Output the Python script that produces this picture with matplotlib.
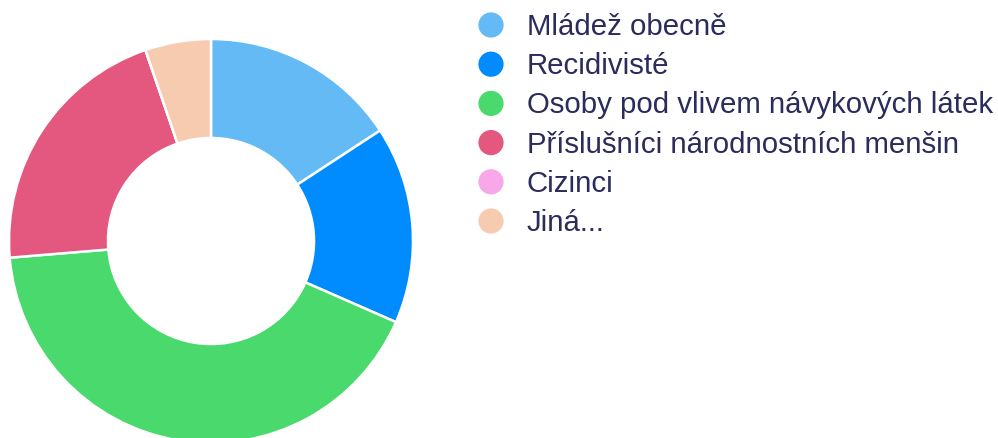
import matplotlib
matplotlib.use("Agg")
import matplotlib.pyplot as plt

# data
kategorie = ["Mládež obecně", "Recidivisté", "Osoby pod vlivem návykových látek",
             "Příslušníci národnostních menšin", "Cizinci", "Jiná..."]
hodnoty = [3, 3, 8, 4, 0, 1]
barvy = ["#63baf5", "#008cff", "#4ad96c", "#e4577e", "#f8a8e9", "#f7cbb0"]

plt.rcParams['font.family'] = ['Liberation Sans', 'DejaVu Sans']

W, H = 998, 439
fig = plt.figure(figsize=(W / 100, H / 100), dpi=100)

# donut
cx, cy, r = 211, 242, 202
ax = fig.add_axes([(cx - r) / W, (H - cy - r) / H, 2 * r / W, 2 * r / H])
ax.pie(hodnoty, colors=barvy, startangle=90, counterclock=False, radius=1,
       wedgeprops=dict(width=0.49, edgecolor='white', linewidth=1.8))
ax.set_xlim(-1, 1)
ax.set_ylim(-1, 1)
ax.set_aspect('equal')
ax.axis('off')

# legend drawn by hand
lg = fig.add_axes([0, 0, 1, 1])
lg.set_xlim(0, W)
lg.set_ylim(H, 0)
lg.axis('off')
lg.patch.set_alpha(0)
for i, (nazev, barva) in enumerate(zip(kategorie, barvy)):
    y = 26 + 39.2 * i
    lg.scatter([491], [y], s=330, color=barva, edgecolor='none')
    lg.text(527, y + 1, nazev, fontsize=21.2, color='#2b2b5c', va='center', ha='left')

fig.savefig("out.png", dpi=100)
